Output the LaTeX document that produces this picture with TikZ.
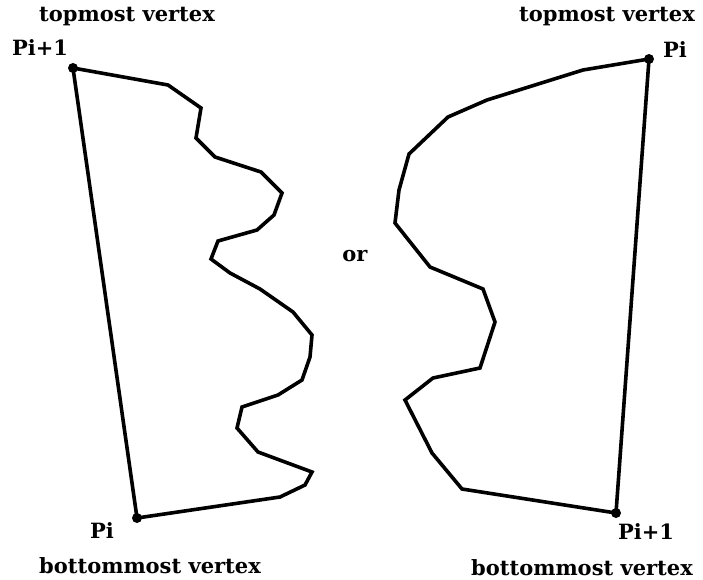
\documentclass[tikz,border=0pt]{standalone}
\usepackage{fontspec}
\setmainfont{DejaVu Serif}
\usepackage{tikz}
\usetikzlibrary{positioning}
\tikzset{
    edgeline/.style={line width=3.6pt, line join=miter, line cap=round},
    vdot/.style={circle, fill=black, inner sep=0pt, minimum size=10pt},
    vlabel/.style={font=\bfseries\fontsize{21}{24}\selectfont, inner sep=0pt}
}

\begin{document}
\begin{tikzpicture}[x=1pt, y=-1pt]
    \useasboundingbox (0,0) rectangle (703,580);
    \coordinate (ltop) at (73,68);
    \coordinate (lbot) at (137,518);
    \coordinate (rtop) at (649,59);
    \coordinate (rbot) at (616,513);
    \draw[edgeline] (ltop) -- (168,85) -- (201,108) -- (196,138) -- (215,157)
        -- (261,172) -- (282,193) -- (274,215) -- (257,230) -- (218,241)
        -- (211,259) -- (230,273) -- (260,289) -- (293,312) -- (312,335)
        -- (310,357) -- (302,380) -- (278,395) -- (242,407) -- (237,428)
        -- (258,452) -- (312,472) -- (305,485) -- (280,497) -- (lbot) -- cycle;
    \draw[edgeline] (rtop) -- (583,70) -- (487,100) -- (448,117) -- (409,154)
        -- (399,190) -- (395,223) -- (430,267) -- (483,289) -- (495,322)
        -- (480,368) -- (433,378) -- (405,400) -- (432,453) -- (462,489)
        -- (rbot) -- cycle;
    \node[vdot] (ltopdot) at (ltop) {};
    \node[vdot] (lbotdot) at (lbot) {};
    \node[vdot] (rtopdot) at (rtop) {};
    \node[vdot] (rbotdot) at (rbot) {};
    \node[vlabel] (ltopname) at (127,17) {topmost vertex};
    \node[vlabel] (ltopp) at (40,48) {Pi+1};
    \node[vlabel] (lbotp) at (102,531) {Pi};
    \node[vlabel] (lbotname) at (150,566) {bottommost vertex};
    \node[vlabel] (ortext) at (355,256) {or};
    \node[vlabel] (rtopname) at (607,17) {topmost vertex};
    \node[vlabel] (rtopp) at (675,50) {Pi};
    \node[vlabel] (rbotp) at (646,532) {Pi+1};
    \node[vlabel] (rbotname) at (582,568) {bottommost vertex};
\end{tikzpicture}
\end{document}
